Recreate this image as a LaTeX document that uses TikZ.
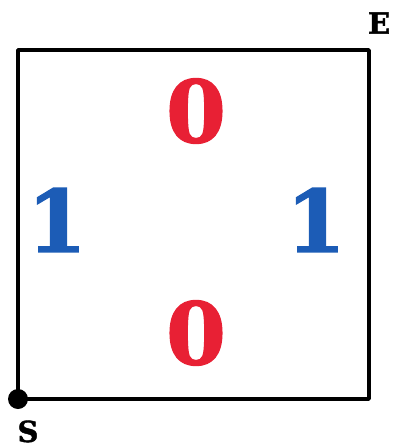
\documentclass[tikz,border=0pt]{standalone}
\usepackage{fontspec}
\setmainfont{DejaVu Serif}
\newfontfamily\heavyfont[FakeBold=1.5]{DejaVu Serif Bold}
\definecolor{digred}{RGB}{232,32,52}
\definecolor{digblue}{RGB}{28,92,182}
\begin{document}
\begin{tikzpicture}[x=1pt,y=-1pt,
  digit/.style={inner sep=0pt,font=\fontsize{86}{86}\heavyfont},
  corner/.style={inner sep=0pt,font=\fontsize{29}{29}\heavyfont}]
\useasboundingbox (0,0) rectangle (392,448);
\draw[line width=3.6pt,line join=round] (18,50) rectangle (369,399);
\node[circle,fill=black,minimum size=20pt,inner sep=0pt] (s) at (18,399) {};
\node[corner,anchor=base] (slab) at (28,442) {S};
\node[corner] (elab) at (379,23) {E};
\node[digit,text=digred] (top) at (196,111) {0};
\node[digit,text=digred] (bot) at (196,333) {0};
\node[digit,text=digblue] (left) at (57,220) {1};
\node[digit,text=digblue] (right) at (316,220) {1};
\end{tikzpicture}
\end{document}
